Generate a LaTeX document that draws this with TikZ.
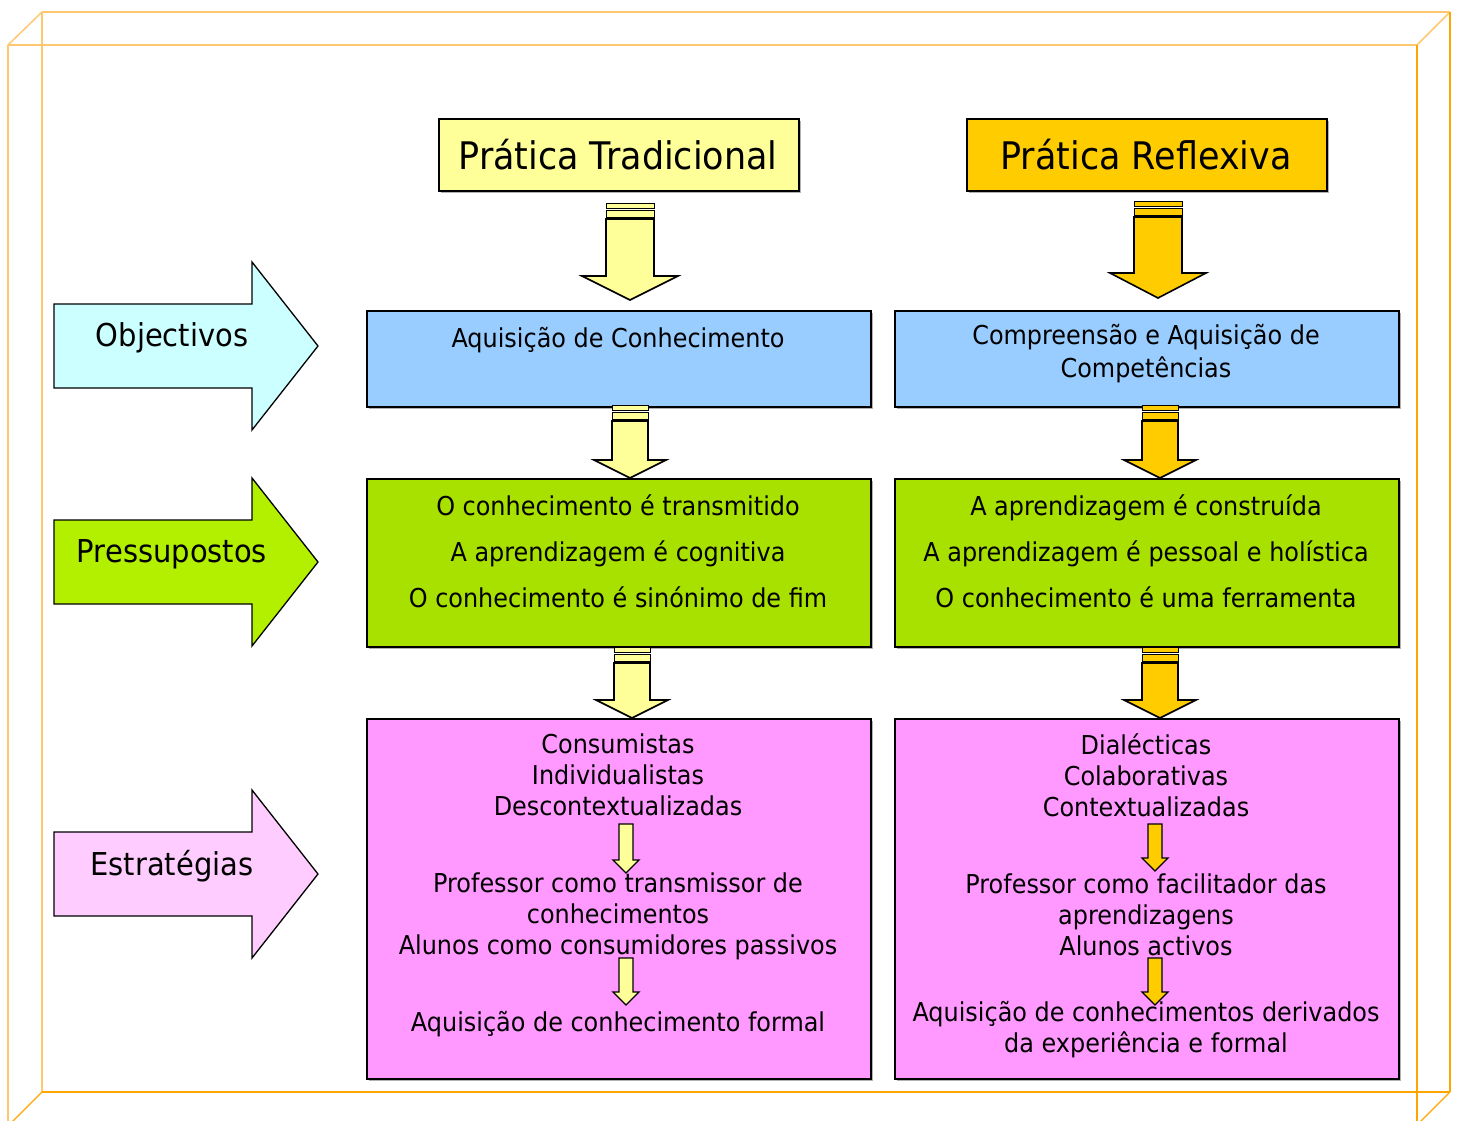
\documentclass[tikz,border=0pt]{standalone}
\usepackage{fontspec}
\setmainfont{DejaVu Sans}[FakeStretch=0.92]
\definecolor{ltyel}{HTML}{FFFF99}
\definecolor{gold}{HTML}{FFCC00}
\definecolor{blu}{HTML}{99CCFF}
\definecolor{grn}{HTML}{A8E000}
\definecolor{pnk}{HTML}{FF99FF}
\definecolor{cyanl}{HTML}{CCFFFF}
\definecolor{lime}{HTML}{B2F000}
\definecolor{pinkl}{HTML}{FFCCFF}
\definecolor{orl}{HTML}{FFC870}
\definecolor{ord}{HTML}{FFA500}
\newcommand\bigdn[7]{%
 \filldraw[fill=#7, line width=0.9] ({#1-#3},{#2}) rectangle ({#1+#3},{#2+5});
 \filldraw[fill=#7, line width=0.9] ({#1-#3},{#2+7}) rectangle ({#1+#3},{#2+14});
 \filldraw[fill=#7, line width=1.6, line join=miter] ({#1-#3},{#2+16}) -- ({#1-#3},{#5}) -- ({#1-#4},{#5}) -- ({#1},{#6}) -- ({#1+#4},{#5}) -- ({#1+#3},{#5}) -- ({#1+#3},{#2+16}) -- cycle;}
\newcommand\smalldn[4]{% cx, top, headbase, tip
 \filldraw[fill=#4, line width=1.3, line join=miter] ({#1-7},{#2}) -- ({#1-7},{#3}) -- ({#1-13},{#3}) -- ({#1},{#3+13}) -- ({#1+13},{#3}) -- ({#1+7},{#3}) -- ({#1+7},{#2}) -- cycle;}
\tikzset{
 panel/.style={draw=black, line width=1.6, anchor=north west, inner sep=0pt},
 txt/.style={align=center, inner sep=0pt, font=\fontsize{26}{31}\selectfont},
 title/.style={inner sep=0pt, font=\fontsize{38}{42}\selectfont},
 side/.style={inner sep=0pt, font=\fontsize{31.5}{36}\selectfont},
 bigarrow/.style={draw=black, line width=1.3, line join=miter},
}
\begin{document}
\begin{tikzpicture}[x=1pt,y=-1pt]
\useasboundingbox (0,0) rectangle (1457,1120);
\clip (0,0) rectangle (1457,1120);
% frame
\draw[orl, line width=2] (42,12) -- (1450,12);
\draw[orl, line width=2] (42,12) -- (42,1092);
\draw[orl, line width=2] (8,45) -- (1417,45);
\draw[orl, line width=2] (8,45) -- (8,1130);
\draw[orl, line width=1.5] (8,45) -- (42,12);
\draw[orl, line width=1.5] (1417,45) -- (1450,12);
\draw[ord, line width=1.5] (1450,12) -- (1450,1092);
\draw[ord, line width=1.5] (42,1092) -- (1450,1092);
\draw[ord, line width=1.5] (1417,45) -- (1417,1130);
\draw[ord, line width=1.2] (42,1092) -- (12,1122);
\draw[ord, line width=1.2] (1450,1092) -- (1420,1122);

% shadows
\foreach \a/\b/\c/\d in {438/118/798/190, 966/118/1326/190, 366/310/870/406, 894/310/1398/406, 366/478/870/646, 894/478/1398/646, 366/718/870/1078, 894/718/1398/1078}
  \fill[black!30] (\a+3,\b+3) rectangle (\c+3,\d+3);

% title boxes
\node[panel, fill=ltyel, minimum width=360pt, minimum height=72pt] (t1) at (438,118) {};
\node[panel, fill=gold, minimum width=360pt, minimum height=72pt] (t2) at (966,118) {};
\node[title] (t1txt) at (618,155) {Prática Tradicional};
\node[title] (t2txt) at (1146,155) {Prática Reflexiva};

% blue boxes
\node[panel, fill=blu, minimum width=504pt, minimum height=96pt] (b1) at (366,310) {};
\node[panel, fill=blu, minimum width=504pt, minimum height=96pt] (b2) at (894,310) {};
\node[txt] (b1txt) at (618,340) {Aquisição de Conhecimento};
\node[txt, font=\fontsize{26}{33}\selectfont] (b2txt) at (1146,354) {Compreensão e Aquisição de\\Competências};

% green boxes
\node[panel, fill=grn, minimum width=504pt, minimum height=168pt] (g1) at (366,478) {};
\node[panel, fill=grn, minimum width=504pt, minimum height=168pt] (g2) at (894,478) {};
\node[txt, font=\fontsize{26}{46}\selectfont] (g1txt) at (618,551) {O conhecimento é transmitido\\A aprendizagem é cognitiva\\O conhecimento é sinónimo de fim};
\node[txt, font=\fontsize{26}{46}\selectfont] (g2txt) at (1146,551) {A aprendizagem é construída\\A aprendizagem é pessoal e holística\\O conhecimento é uma ferramenta};

% pink boxes
\node[panel, fill=pnk, minimum width=504pt, minimum height=360pt] (p1) at (366,718) {};
\node[panel, fill=pnk, minimum width=504pt, minimum height=360pt] (p2) at (894,718) {};
\node[txt] (p1a) at (618,775) {Consumistas\\Individualistas\\Descontextualizadas};
\node[txt] (p1b) at (618,916) {Professor como transmissor de\\conhecimentos\\Alunos como consumidores passivos};
\node[txt] (p1c) at (618,1024) {Aquisição de conhecimento formal};
\node[txt] (p2a) at (1146,775) {Dialécticas\\Colaborativas\\Contextualizadas};
\node[txt] (p2b) at (1146,915) {Professor como facilitador das\\aprendizagens\\Alunos activos};
\node[txt] (p2c) at (1146,1030) {Aquisição de conhecimentos derivados\\da experiência e formal};

% small arrows inside pink
\smalldn{626}{824}{860}{ltyel}
\smalldn{626}{958}{992}{ltyel}
\smalldn{1155}{824}{858}{gold}
\smalldn{1155}{958}{992}{gold}

% big down arrows
\bigdn{630}{203}{24}{48}{276}{300}{ltyel}
\bigdn{1158}{201}{24}{48}{273}{298}{gold}
\bigdn{630}{405}{18}{36}{460}{478}{ltyel}
\bigdn{1160}{405}{18}{36}{460}{478}{gold}
\bigdn{632}{647}{18}{36}{700}{718}{ltyel}
\bigdn{1160}{647}{18}{36}{700}{718}{gold}

% left arrows
\draw[bigarrow, fill=cyanl] (54,304) -- (252,304) -- (252,262) -- (318,346) -- (252,430) -- (252,388) -- (54,388) -- cycle;
\node[side] (obj) at (172,338) {Objectivos};
\draw[bigarrow, fill=lime] (54,520) -- (252,520) -- (252,478) -- (318,562) -- (252,646) -- (252,604) -- (54,604) -- cycle;
\node[side] (pre) at (172,554) {Pressupostos};
\draw[bigarrow, fill=pinkl] (54,832) -- (252,832) -- (252,790) -- (318,874) -- (252,958) -- (252,916) -- (54,916) -- cycle;
\node[side] (est) at (172,866) {Estratégias};
\end{tikzpicture}
\end{document}
